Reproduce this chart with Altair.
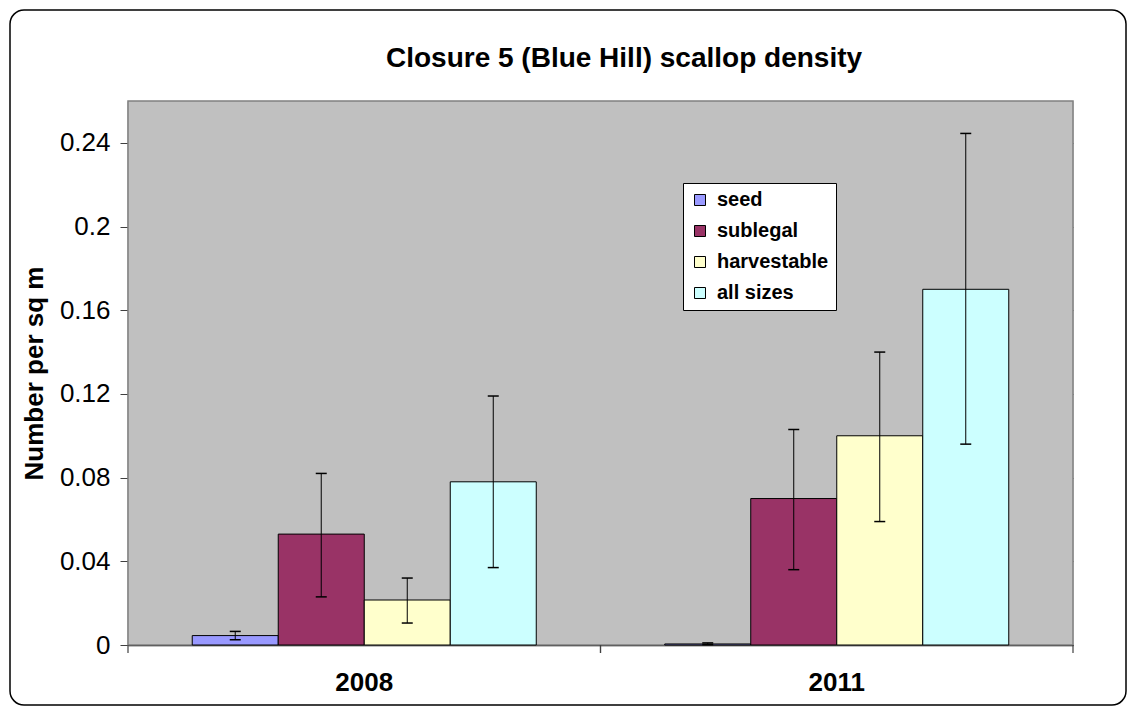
import altair as alt
import pandas as pd

years = ["2008", "2011"]
sizes = ["seed", "sublegal", "harvestable", "all sizes"]
colors = ["#9999FF", "#993366", "#FFFFCC", "#CCFFFF"]

mean_2008 = [0.0045, 0.053, 0.0215, 0.078]
low_2008 = [0.0025, 0.023, 0.0105, 0.037]
high_2008 = [0.0065, 0.082, 0.032, 0.119]

mean_2011 = [0.0005, 0.070, 0.100, 0.170]
low_2011 = [0.0002, 0.036, 0.059, 0.096]
high_2011 = [0.0010, 0.103, 0.140, 0.2445]

y_ticks = [0, 0.04, 0.08, 0.12, 0.16, 0.2, 0.24]
title_text = "Closure 5 (Blue Hill) scallop density"

rows = []
for yr, m, lo, hi in [("2008", mean_2008, low_2008, high_2008),
                      ("2011", mean_2011, low_2011, high_2011)]:
    for s, a, b, c in zip(sizes, m, lo, hi):
        rows.append({"year": yr, "size": s, "mean": a, "low": b, "high": c})
df = pd.DataFrame(rows)

FONT = "Liberation Sans"
W, H = 945, 544

x_enc = alt.X("year:N", sort=years,
              scale=alt.Scale(paddingInner=0, paddingOuter=0),
              axis=alt.Axis(title=None, ticks=False, labelAngle=0,
                            labelFontSize=26, labelFontWeight="bold",
                            labelColor="black", labelPadding=24,
                            domainColor="black", domainWidth=1.5,
                            grid=False))
xo_enc = alt.XOffset("size:N", sort=sizes,
                     scale=alt.Scale(paddingOuter=0.747, paddingInner=0))
y_scale = alt.Scale(domain=[0, 0.26], nice=False, zero=True)

base = alt.Chart(df)

bars = base.mark_bar(stroke="black", strokeWidth=1, opacity=1).encode(
    x=x_enc,
    xOffset=xo_enc,
    y=alt.Y("mean:Q", scale=y_scale,
            axis=alt.Axis(title="Number per sq m", values=y_ticks, format="~g",
                          labelFontSize=26, labelColor="black", labelPadding=10,
                          titleFontSize=26, titleFontWeight="bold",
                          titleColor="black", titlePadding=12,
                          tickSize=8, tickColor="#404040", tickWidth=1,
                          domainColor="#505050", domainWidth=1.5,
                          grid=True, gridColor="#404040", gridWidth=1.2)),
    color=alt.Color("size:N", sort=sizes,
                    scale=alt.Scale(domain=sizes, range=colors),
                    legend=alt.Legend(title=None, orient="none",
                                      legendX=555, legendY=82,
                                      fillColor="white", strokeColor="black",
                                      padding=7, labelFontSize=20,
                                      labelFontWeight="bold", labelColor="black",
                                      labelFont=FONT,
                                      symbolType="square", symbolSize=121,
                                      symbolStrokeColor="black",
                                      symbolStrokeWidth=1, symbolOpacity=1,
                                      rowPadding=11, labelOffset=7)),
)

err = base.mark_rule(color="black", strokeWidth=1).encode(
    x=alt.X("year:N", sort=years),
    xOffset=xo_enc,
    y=alt.Y("low:Q", scale=y_scale),
    y2="high:Q",
)
cap_lo = base.mark_tick(color="black", size=11, thickness=1.5, opacity=1).encode(
    x=alt.X("year:N", sort=years), xOffset=xo_enc,
    y=alt.Y("low:Q", scale=y_scale),
)
cap_hi = base.mark_tick(color="black", size=11, thickness=1.5, opacity=1).encode(
    x=alt.X("year:N", sort=years), xOffset=xo_enc,
    y=alt.Y("high:Q", scale=y_scale),
)

years_df = pd.DataFrame({"year": years})
ticks0 = alt.Chart(years_df).mark_rule(color="#404040", strokeWidth=1.2).encode(
    x=alt.X("year:N", sort=years, bandPosition=0),
    y=alt.value(H), y2=alt.value(H + 8),
)
ticks1 = alt.Chart(years_df).mark_rule(color="#404040", strokeWidth=1.2).encode(
    x=alt.X("year:N", sort=years, bandPosition=1),
    y=alt.value(H), y2=alt.value(H + 8),
)

one = pd.DataFrame({"k": [0]})
plot_bg = alt.Chart(one).mark_rect(
    fill="#C0C0C0", stroke="#808080", strokeWidth=1.5
).encode(
    x=alt.value(0), x2=alt.value(W), y=alt.value(0), y2=alt.value(H),
)

frame = alt.Chart(one).mark_rect(
    fillOpacity=0, stroke="black", strokeWidth=1.5, cornerRadius=14
).encode(
    x=alt.value(-118), x2=alt.value(W + 53),
    y=alt.value(-91), y2=alt.value(H + 60),
)

title = alt.Chart(one).mark_text(
    font=FONT, fontSize=28, fontWeight="bold", color="black",
    align="center", baseline="alphabetic"
).encode(
    x=alt.value(496), y=alt.value(-34), text=alt.value(title_text),
)

chart = alt.layer(plot_bg, bars, err, cap_lo, cap_hi, ticks0, ticks1,
                  frame, title).properties(
    width=W, height=H,
    autosize=alt.AutoSizeParams(type="none"),
    padding={"left": 120, "top": 93, "right": 55, "bottom": 62},
    background="white",
).configure_view(
    stroke=None
).configure(font=FONT)

chart.save("out.html", embed_options={"renderer": "svg", "actions": False})
